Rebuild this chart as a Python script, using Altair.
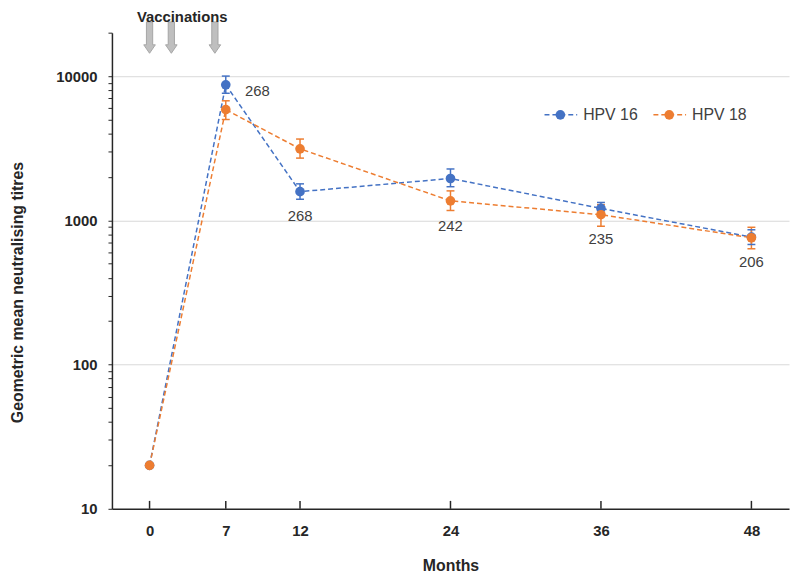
import altair as alt
import pandas as pd

# ---------------- data ----------------
months = [0, 7, 12, 24, 36, 48]
hpv16 = [20, 8700, 1580, 1950, 1210, 765]
hpv16_lo = [None, 7600, 1400, 1710, 1090, 680]
hpv16_hi = [None, 10000, 1790, 2270, 1330, 860]
hpv18 = [20, 5850, 3130, 1365, 1094, 757]
hpv18_lo = [None, 5000, 2700, 1170, 910, 635]
hpv18_hi = [None, 6740, 3660, 1600, 1284, 895]

n_months = [7, 12, 24, 36, 48]
n_labels = [268, 268, 242, 235, 206]

vacc_months = [0, 2, 6]

series_names = ["HPV 16", "HPV 18"]
series_colors = ["#4472C4", "#ED7D31"]

x_ticks = [0, 7, 12, 24, 36, 48]
y_ticks = [10, 20, 30, 40, 50, 60, 70, 80, 90,
           100, 200, 300, 400, 500, 600, 700, 800, 900,
           1000, 2000, 3000, 4000, 5000, 6000, 7000, 8000, 9000,
           10000, 20000]

FONT = "Liberation Sans, Arial, sans-serif"
DARK = "#262626"
TXT = "#404040"
W, H = 684, 481

# ---------------- tables ----------------
rows = []
for name, vals, los, his in [(series_names[0], hpv16, hpv16_lo, hpv16_hi),
                             (series_names[1], hpv18, hpv18_lo, hpv18_hi)]:
    for m, v, lo, hi in zip(months, vals, los, his):
        rows.append({"month": m, "series": name, "value": v, "lo": lo, "hi": hi})
df = pd.DataFrame(rows)

lab_rows = []
for m, n in zip(n_months, n_labels):
    i = months.index(m)
    lab_rows.append({"month": m, "n": str(n), "blue": hpv16[i],
                     "low": min(hpv16[i], hpv18[i])})
labels = pd.DataFrame(lab_rows)

vacc = pd.DataFrame({"month": vacc_months})
xt = pd.DataFrame({"month": x_ticks})

# ---------------- scales & axes ----------------
xscale = alt.Scale(domain=[-3, 0, 7, 12, 51], range=[0, 38, 115, 190, W],
                   nice=False, zero=False)
yscale = alt.Scale(type="log", domain=[10, 20000], nice=False)
color = alt.Color("series:N", scale=alt.Scale(domain=series_names, range=series_colors),
                  legend=None)

x_axis = alt.Axis(values=x_ticks, ticks=False, grid=False, labelPadding=15,
                  labelFont=FONT, labelFontSize=15, labelFontWeight="bold",
                  labelColor=DARK, labelFlush=False, domainColor=DARK, domainWidth=1.5,
                  title="Months", titleFont=FONT, titleFontSize=16,
                  titleFontWeight="bold", titleColor=DARK, titleY=57,
                  titleBaseline="middle")

y_axis = alt.Axis(values=y_ticks, format="d",
                  labelExpr="indexof([10,100,1000,10000], datum.value) >= 0 ? datum.value : ''",
                  labelOverlap=False, labelFlush=False, labelBound=False,
                  labelFont=FONT, labelFontSize=15, labelFontWeight="bold",
                  labelColor=DARK, labelPadding=11,
                  tickSize=4, tickColor=DARK, tickWidth=1,
                  domainColor=DARK, domainWidth=1.5,
                  grid=True, gridColor="#d9d9d9", gridWidth=1,
                  gridOpacity={"condition": {"test": "indexof([100,1000,10000], datum.value) >= 0",
                                             "value": 1}, "value": 0},
                  title="Geometric mean neutralising titres", titleFont=FONT,
                  titleFontSize=16, titleFontWeight="bold", titleColor=DARK,
                  titleX=-95, titleY=262, titleAngle=270, titleAlign="center",
                  titleBaseline="middle")


def X(field):
    return alt.X(field, scale=xscale, axis=x_axis)


def Y(field):
    return alt.Y(field, scale=yscale, axis=y_axis)


base = alt.Chart(df)

lines = base.mark_line(strokeDash=[5, 3], strokeWidth=1.5).encode(
    x=X("month:Q"), y=Y("value:Q"), color=color, detail="series:N",
)

err = base.transform_filter("isValid(datum.lo)")
err_rule = err.mark_rule(strokeWidth=1.5).encode(
    x=X("month:Q"), y=Y("lo:Q"), y2="hi:Q", color=color,
)
cap_lo = err.mark_tick(orient="horizontal", size=8, thickness=1.5, opacity=1).encode(
    x=X("month:Q"), y=Y("lo:Q"), color=color,
)
cap_hi = err.mark_tick(orient="horizontal", size=8, thickness=1.5, opacity=1).encode(
    x=X("month:Q"), y=Y("hi:Q"), color=color,
)

pts = base.mark_circle(size=95, opacity=1).encode(
    x=X("month:Q"), y=Y("value:Q"), color=color,
)

lab = alt.Chart(labels)
lab7 = lab.transform_filter("datum.month == 7").mark_text(
    font=FONT, fontSize=15, color=TXT, align="center", baseline="middle", dx=32, dy=6
).encode(x=X("month:Q"), y=Y("blue:Q"), text="n:N")
lab_rest = lab.transform_filter("datum.month != 7").mark_text(
    font=FONT, fontSize=15, color=TXT, align="center", baseline="middle", dy=25
).encode(x=X("month:Q"), y=Y("low:Q"), text="n:N")

# x-axis tick marks (pointing inward)
xticks = alt.Chart(xt).mark_rule(color=DARK, strokeWidth=1.5).encode(
    x=X("month:Q"), y=alt.value(H - 8), y2=alt.value(H),
)

# vaccination arrows
arrow_path = "M-0.2,-1 L0.2,-1 L0.2,0.46 L0.37,0.46 L0,1 L-0.37,0.46 L-0.2,0.46 Z"
arrows = alt.Chart(vacc).mark_point(
    shape=arrow_path, size=1000, filled=True, fill="#bfbfbf", stroke="#a6a6a6",
    strokeWidth=1, opacity=1
).encode(x=X("month:Q"), y=alt.value(5))
vacc_text = alt.Chart(pd.DataFrame({"t": ["Vaccinations"]})).mark_text(
    font=FONT, fontSize=15, fontWeight="bold", color=DARK, align="center",
    baseline="middle"
).encode(x=alt.value(71), y=alt.value(-16), text="t:N")

# manual legend
one = pd.DataFrame({"a": [0]})
legend_layers = []
for i, (name, col) in enumerate(zip(series_names, series_colors)):
    x0 = 437 + i * 110
    legend_layers.append(alt.Chart(one).mark_rule(strokeDash=[5, 3], strokeWidth=1.5,
                                                  color=col).encode(
        x=alt.value(x0), x2=alt.value(x0 + 33), y=alt.value(83)))
    legend_layers.append(alt.Chart(one).mark_circle(size=95, opacity=1, color=col).encode(
        x=alt.value(x0 + 16), y=alt.value(83)))
    legend_layers.append(alt.Chart(one).mark_text(
        font=FONT, fontSize=16, color=TXT, align="left", baseline="middle").encode(
        x=alt.value(x0 + 39), y=alt.value(83), text=alt.value(name)))

chart = alt.layer(
    lines, err_rule, cap_lo, cap_hi, pts, lab7, lab_rest, xticks, arrows, vacc_text,
    *legend_layers
).properties(
    width=W, height=H,
    autosize=alt.AutoSizeParams(type="none"),
    padding={"left": 105, "top": 22, "right": 3, "bottom": 69},
    background="white",
).configure_view(stroke=None)

chart.save("out.html", embed_options={"renderer": "svg", "actions": False})
